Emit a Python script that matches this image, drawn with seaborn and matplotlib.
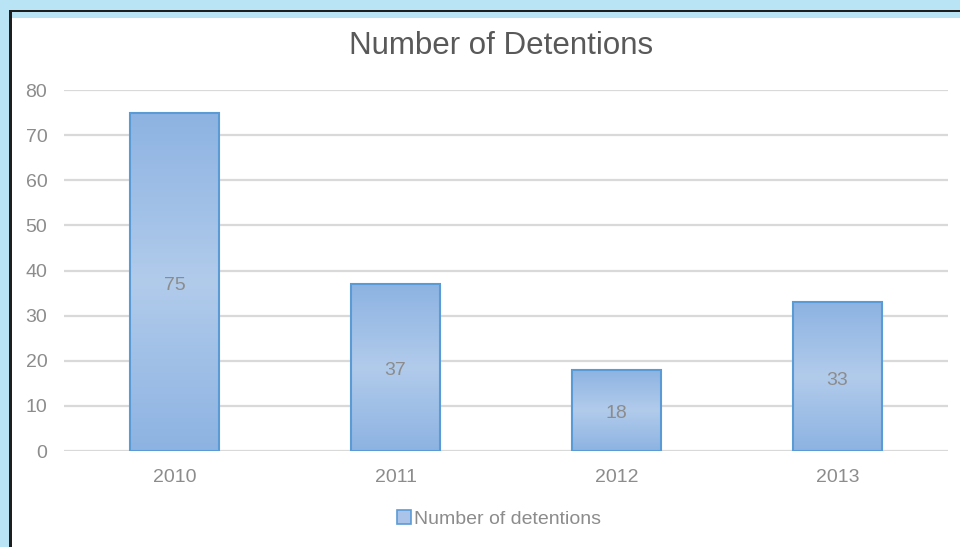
import numpy as np
import pandas as pd
import matplotlib
matplotlib.use("Agg")
import matplotlib.pyplot as plt
import seaborn as sns
from matplotlib.patches import Rectangle, Patch
from matplotlib.colors import LinearSegmentedColormap

# data
years = ["2010", "2011", "2012", "2013"]
detentions = [75, 37, 18, 33]
series_name = "Number of detentions"
chart_title = "Number of Detentions"

df = pd.DataFrame({"year": years, "count": detentions})

sns.set_style("white")
plt.rcParams["font.family"] = ["Liberation Sans", "DejaVu Sans"]

W, H = 960, 547
fig = plt.figure(figsize=(9.6, 5.47), dpi=100)
fig.patch.set_facecolor("#B9E4F6")

# white panel with black border on top/left
fig.add_artist(Rectangle((11 / W, 0), 1 - 11 / W, 1 - 18 / H, transform=fig.transFigure,
                         facecolor="white", edgecolor="none", zorder=0))
fig.add_artist(Rectangle((9 / W, 1 - 12 / H), 1, 2.5 / H, transform=fig.transFigure,
                         facecolor="#1e1e1e", edgecolor="none", zorder=1))
fig.add_artist(Rectangle((9 / W, 0), 2.5 / W, 1 - 10 / H, transform=fig.transFigure,
                         facecolor="#1e1e1e", edgecolor="none", zorder=1))

ax = fig.add_axes([64 / W, 1 - 451 / H, (948 - 64) / W, (451 - 90) / H])
ax.set_facecolor("none")

sns.barplot(data=df, x="year", y="count", ax=ax, width=0.40,
            color="#A9C4E8", edgecolor="#5B9BD5", linewidth=1.5, zorder=3)

# vertical gradient fill: darker at top/bottom, lighter in the middle
cmap = LinearSegmentedColormap.from_list("bar", ["#8DB3E2", "#B1CBEB", "#8DB3E2"])
grad = np.linspace(0, 1, 256).reshape(-1, 1)
for p in ax.patches:
    x0, w, h = p.get_x(), p.get_width(), p.get_height()
    ax.imshow(grad, cmap=cmap, extent=[x0, x0 + w, 0, h], aspect="auto",
              origin="lower", zorder=2.5, interpolation="bicubic")
    p.set_facecolor("none")

# data labels in the middle of the bars
for i, v in enumerate(detentions):
    ax.annotate(str(v), (i, v / 2), xytext=(0, -2.5), textcoords="offset points",
                ha="center", va="center", fontsize=14, color="#8C8C8C", zorder=4)

ax.set_xlim(-0.5, 3.5)
ax.set_ylim(0, 80)
ax.set_yticks(range(0, 81, 10))
ax.yaxis.grid(True, color="#D9D9D9", linewidth=1.6, zorder=0)
ax.set_axisbelow(True)
for s in ax.spines.values():
    s.set_visible(False)
ax.tick_params(axis="y", length=0, pad=12, labelsize=14, labelcolor="#8C8C8C")
ax.tick_params(axis="x", length=0, pad=13, labelsize=14, labelcolor="#8C8C8C")
ax.set_xlabel("")
ax.set_ylabel("")

fig.text(501 / W, 1 - 46 / H, chart_title, ha="center", va="center",
         fontsize=22.5, color="#595959")

handle = Patch(facecolor="#A9C4E8", edgecolor="#5B9BD5", linewidth=1.2)
fig.legend([handle], [series_name], loc="center", bbox_to_anchor=(499 / W, 1 - 519 / H),
           frameon=False, fontsize=14, labelcolor="#8C8C8C",
           handlelength=0.7, handleheight=0.7, handletextpad=0.15)

plt.savefig("out.png", dpi=100, facecolor=fig.get_facecolor())
